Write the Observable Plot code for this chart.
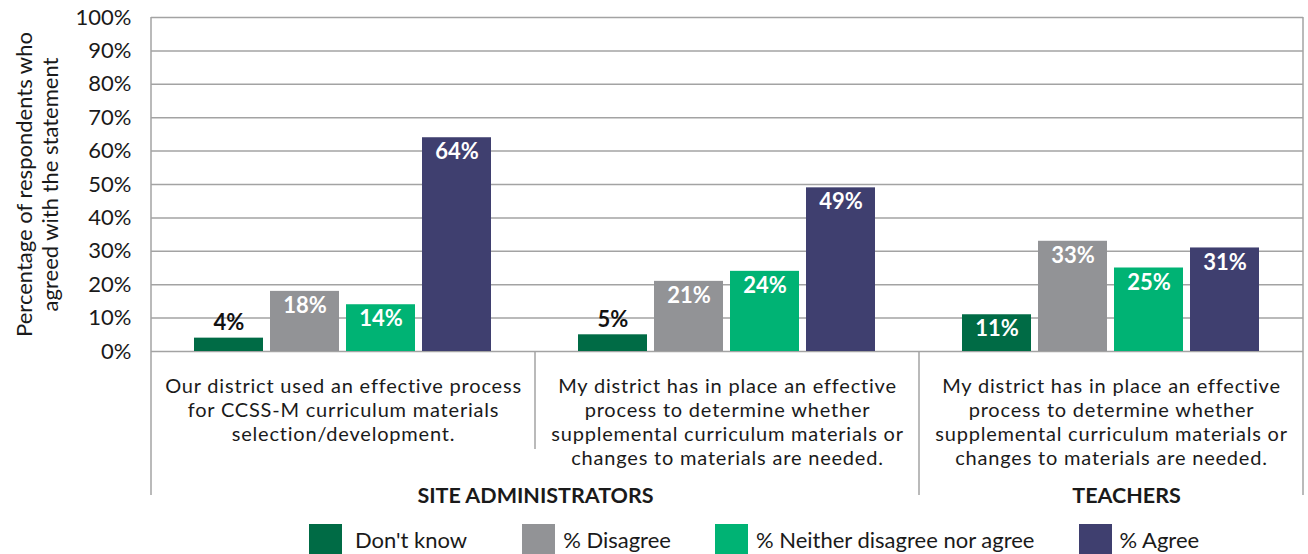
<!DOCTYPE html>
<html>
<head>
<meta charset="utf-8">
<script src="https://cdn.jsdelivr.net/npm/d3@7"></script>
<script src="https://cdn.jsdelivr.net/npm/@observablehq/plot@0.6"></script>
<style>
  html, body { margin: 0; padding: 0; background: #fff; }
  body { width: 1308px; height: 554px; overflow: hidden; font-family: Lato, "Open Sans", sans-serif; color: #1a1a1a; }
  #legend { display: flex; align-items: center; margin-top: 12px; padding-left: 309px; height: 30px; font-size: 22px; }
  .item { display: flex; align-items: center; margin-right: 44px; }
  .item:first-child { margin-right: 55px; }
  .sw { width: 33px; height: 30px; margin-right: 8px; }
  .item:first-child .sw { margin-right: 13px; }
  g[aria-description="statements"] text { letter-spacing: 0.8px; }
</style>
</head>
<body>
<div id="chart"></div>
<div id="legend"></div>
<script>
const groups = ["g1", "g2", "g3"];
const statements = [
  "Our district used an effective process\nfor CCSS-M curriculum materials\nselection/development.",
  "My district has in place an effective\nprocess to determine whether\nsupplemental curriculum materials or\nchanges to materials are needed.",
  "My district has in place an effective\nprocess to determine whether\nsupplemental curriculum materials or\nchanges to materials are needed."
];
const audiences = ["SITE ADMINISTRATORS", "TEACHERS"];
const responses = ["Don't know", "% Disagree", "% Neither disagree nor agree", "% Agree"];
const colors = ["#006b45", "#929396", "#00b374", "#3f3f6f"];
const dontKnow = [4, 5, 11];
const disagree = [18, 21, 33];
const neither = [14, 24, 25];
const agree = [64, 49, 31];
const yTicks = [0, 10, 20, 30, 40, 50, 60, 70, 80, 90, 100];
const yTitle = "Percentage of respondents who\nagreed with the statement";

const series = [dontKnow, disagree, neither, agree];
const data = [];
groups.forEach((g, gi) => {
  responses.forEach((r, ri) => data.push({group: g, response: r, value: series[ri][gi]}));
});
const stmtData = groups.map((g, i) => ({group: g, text: statements[i]}));

const W = 1308, H = 512;
const plot = Plot.plot({
  width: W,
  height: H,
  marginTop: 17,
  marginBottom: 161,
  marginLeft: 150,
  marginRight: 5,
  style: {fontFamily: "Lato, 'Open Sans', sans-serif", fontSize: "22px", color: "#1a1a1a", background: "white"},
  fx: {domain: groups, padding: 0, axis: null},
  x: {domain: responses, paddingInner: 0.091, paddingOuter: 0.545, axis: null},
  y: {domain: [0, 100], ticks: yTicks, tickFormat: d => d + "%", tickSize: 0, tickPadding: 20, label: null},
  color: {domain: responses, range: colors},
  marks: [
    Plot.gridY(yTicks, {stroke: "#a3a3a3", strokeOpacity: 1, strokeWidth: 1.5}),
    Plot.barY(data, {fx: "group", x: "response", y: "value", fill: "response"}),
    Plot.text(data.filter(d => d.value >= 8), {
      fx: "group", x: "response", y: "value", text: d => d.value + "%",
      fill: "white", fontWeight: "bold", fontSize: 22, lineAnchor: "top", dy: 6
    }),
    Plot.text(data.filter(d => d.value < 8), {
      fx: "group", x: "response", y: "value", text: d => d.value + "%",
      fill: "#111", fontWeight: "bold", fontSize: 22, lineAnchor: "bottom", dy: -8
    }),
    Plot.text(stmtData, {
      fx: "group", text: "text", frameAnchor: "bottom", lineAnchor: "top",
      dy: 24, lineHeight: 1.2, fontSize: 20, fill: "#1a1a1a", ariaDescription: "statements"
    }),
    Plot.text([audiences[0]], {
      fx: () => groups[1], text: d => d, frameAnchor: "bottom-left", textAnchor: "middle",
      lineAnchor: "middle", dy: 145, fontWeight: "bold", fontSize: 21.5, fill: "#1a1a1a"
    }),
    Plot.text([audiences[1]], {
      fx: () => groups[2], text: d => d, frameAnchor: "bottom", textAnchor: "middle",
      lineAnchor: "middle", dy: 145, dx: 15, fontWeight: "bold", fontSize: 21.5, fill: "#1a1a1a"
    }),
    Plot.text([yTitle], {
      fx: () => groups[0], text: d => d, frameAnchor: "left", rotate: -90,
      textAnchor: "middle", lineAnchor: "middle", lineHeight: 1.18, dx: -115,
      fontSize: 22, fill: "#1a1a1a"
    })
  ]
});

// structural border / separator lines
const svg = d3.select(plot.tagName.toLowerCase() === "svg" ? plot : plot.querySelector("svg"));
const fx = plot.scale("fx");
const y = plot.scale("y");
const bw = fx.bandwidth;
const yTop = y.apply(100), yBase = y.apply(0);
const lines = [
  {x: fx.apply(groups[0]), y1: yTop, y2: yBase + 144},
  {x: fx.apply(groups[2]) + bw, y1: yTop, y2: yBase + 144},
  {x: fx.apply(groups[1]), y1: yBase, y2: yBase + 98},
  {x: fx.apply(groups[2]), y1: yBase, y2: yBase + 144}
];
svg.append("g").selectAll("line").data(lines).join("line")
  .attr("x1", d => d.x).attr("x2", d => d.x)
  .attr("y1", d => d.y1).attr("y2", d => d.y2)
  .attr("stroke", "#a3a3a3").attr("stroke-width", 1.5);

document.getElementById("chart").appendChild(plot);

const legend = d3.select("#legend");
responses.forEach((r, i) => {
  const it = legend.append("div").attr("class", "item");
  it.append("div").attr("class", "sw").style("background", colors[i]);
  it.append("span").text(r);
});
</script>
</body>
</html>
